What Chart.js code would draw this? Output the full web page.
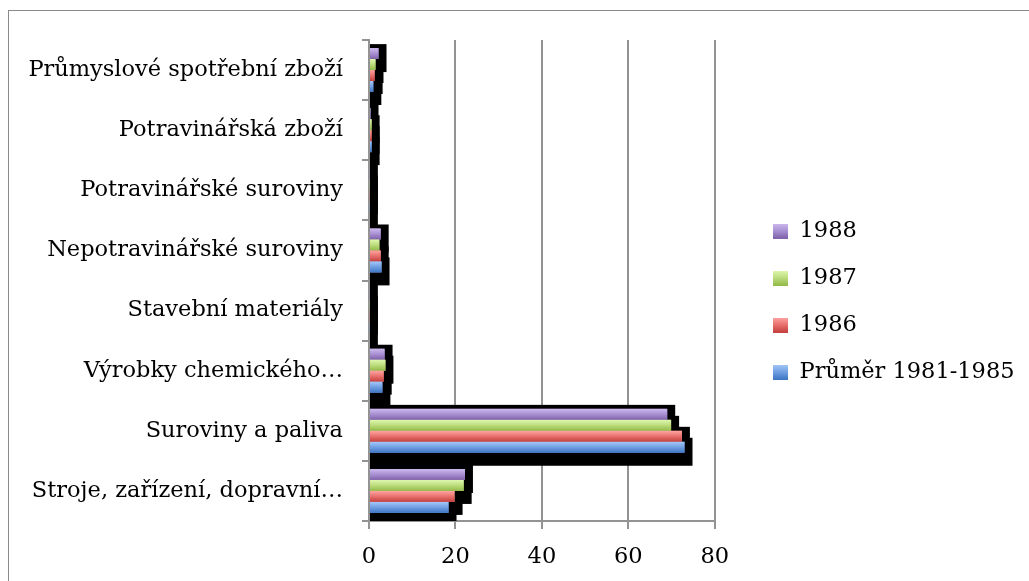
<!DOCTYPE html>
<html><head><meta charset="utf-8">
<script src="https://cdn.jsdelivr.net/npm/chart.js@4.4.0/dist/chart.umd.min.js"></script>
<style>
html,body{margin:0;padding:0;background:#fff;overflow:hidden}
#wrap{position:relative;width:1029px;height:581px}
#frame{position:absolute;left:8px;top:10px;width:1100px;height:700px;border:1px solid #8a8a8a;box-sizing:border-box}
canvas{position:absolute;left:0;top:0}
</style></head><body>
<div id="wrap"><div id="frame"></div><canvas id="c" width="1029" height="581"></canvas></div>
<script>
// ---- data ----
const categories = [
  'Průmyslové spotřební zboží',
  'Potravinářská zboží',
  'Potravinářské suroviny',
  'Nepotravinářské suroviny',
  'Stavební materiály',
  'Výrobky chemického…',
  'Suroviny a paliva',
  'Stroje, zařízení, dopravní…'
];
const seriesNames = ['1988', '1987', '1986', 'Průměr 1981-1985'];
const values1988 = [2.2, 0.35, 0.2, 2.7, 0.2, 3.6, 69.0, 22.2];
const values1987 = [1.5, 0.6, 0.2, 2.4, 0.2, 3.8, 69.9, 21.9];
const values1986 = [1.3, 0.6, 0.2, 2.7, 0.2, 3.4, 72.4, 19.8];
const valuesAvg  = [1.0, 0.6, 0.2, 2.9, 0.2, 3.1, 73.0, 18.4];
const xTicks = [0, 20, 40, 60, 80];

// ---- styles ----
const gradStops = [
  ['#cdbaee', '#a88fd2', '#7f61a9'],
  ['#e0f8b0', '#bcdc7c', '#92ba48'],
  ['#ffa5a2', '#e8706d', '#c3403d'],
  ['#a5c8f9', '#709fe2', '#3e76c3']
];
const FONT = 'DejaVu Serif';
const FS = 22.5;

function makeGrad(ctx, top, bottom, stops) {
  const g = ctx.createLinearGradient(0, top, 0, bottom);
  g.addColorStop(0, stops[0]);
  g.addColorStop(0.5, stops[1]);
  g.addColorStop(1, stops[2]);
  return g;
}
function legendSwatch(stops) {
  const cv = document.createElement('canvas');
  cv.width = 15; cv.height = 15;
  const c = cv.getContext('2d');
  c.fillStyle = makeGrad(c, 0, 15, stops);
  c.fillRect(0, 0, 15, 15);
  return cv;
}

const barPlugin = {
  id: 'barDeco',
  beforeDatasetsDraw(chart) {
    const {ctx, chartArea: a} = chart;
    ctx.save();
    ctx.beginPath();
    ctx.rect(a.left, a.top, a.right - a.left, a.bottom - a.top);
    ctx.clip();
    ctx.fillStyle = '#000';
    chart.data.datasets.forEach((ds, i) => {
      chart.getDatasetMeta(i).data.forEach(el => {
        const {x, y, base, height} = el.getProps(['x', 'y', 'base', 'height'], true);
        const top = y - height / 2 - 4;
        const bottom = y + height / 2 + 13;
        ctx.fillRect(base, top, x + 8 - base, bottom - top);
      });
    });
    ctx.restore();
  },
  afterDatasetsDraw(chart) {
    const {ctx, chartArea: a} = chart;
    ctx.save();
    ctx.beginPath();
    ctx.rect(a.left, a.top, a.right - a.left, a.bottom - a.top);
    ctx.clip();
    chart.data.datasets.forEach((ds, i) => {
      chart.getDatasetMeta(i).data.forEach(el => {
        const {x, y, base, height} = el.getProps(['x', 'y', 'base', 'height'], true);
        const top = y - height / 2, bottom = y + height / 2;
        ctx.fillStyle = makeGrad(ctx, top, bottom, gradStops[i]);
        ctx.fillRect(Math.min(base, x), top, Math.abs(x - base), height);
      });
    });
    ctx.restore();
  },
  afterLayout(chart) {
    const lg = chart.legend;
    if (lg) { lg.left += 34; lg.right = chart.width; lg.top -= 9; lg.bottom -= 9; }
  }
};

const seriesValues = [values1988, values1987, values1986, valuesAvg];

new Chart(document.getElementById('c'), {
  type: 'bar',
  data: {
    labels: categories,
    datasets: seriesNames.map((n, i) => ({
      label: n,
      data: seriesValues[i],
      backgroundColor: gradStops[i][1],
      borderWidth: 0,
      categoryPercentage: 0.73,
      barPercentage: 1.0
    }))
  },
  options: {
    indexAxis: 'y',
    responsive: false,
    animation: false,
    devicePixelRatio: 1,
    layout: { padding: { top: 40, left: 0, right: 76, bottom: 0 } },
    plugins: {
      tooltip: { enabled: false },
      legend: {
        position: 'right',
        align: 'center',
        labels: {
          font: { family: FONT, size: FS },
          color: '#000',
          usePointStyle: true,
          boxWidth: 15,
          boxHeight: 15,
          padding: 24.5,
          generateLabels(chart) {
            return chart.data.datasets.map((ds, i) => ({
              text: ds.label,
              pointStyle: legendSwatch(gradStops[i]),
              fillStyle: gradStops[i][1],
              strokeStyle: 'transparent',
              lineWidth: 0,
              hidden: false,
              datasetIndex: i
            }));
          }
        }
      }
    },
    scales: {
      x: {
        min: 0, max: 80,
        afterBuildTicks(s) { s.ticks = xTicks.map(v => ({ value: v })); },
        afterFit(s) { s.height = 60; },
        grid: { color: '#939393', lineWidth: 2, tickLength: 8, drawOnChartArea: true },
        border: { display: true, color: '#939393', width: 2 },
        ticks: { font: { family: FONT, size: FS }, color: '#000', padding: 15 }
      },
      y: {
        type: 'category',
        afterFit(s) { s.width = 369; },
        offset: true,
        grid: { offset: true, drawOnChartArea: false, color: '#939393', lineWidth: 2, tickLength: 7 },
        border: { display: true, color: '#939393', width: 2 },
        ticks: { font: { family: FONT, size: FS }, color: '#000', padding: 19, autoSkip: false }
      }
    }
  },
  plugins: [barPlugin]
});
</script>
</body></html>
